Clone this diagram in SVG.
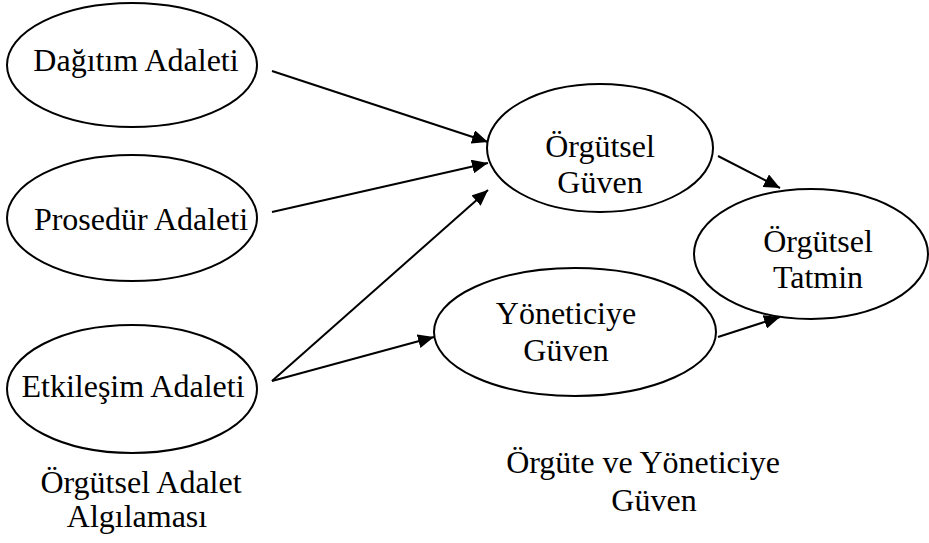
<svg xmlns="http://www.w3.org/2000/svg" width="929" height="543" viewBox="0 0 929 543">
<style>
.n ellipse{fill:#fff;stroke:#000;stroke-width:2}
text{font-family:"Liberation Serif","Times New Roman",serif;font-size:32px;fill:#000;text-anchor:middle}
.c line{stroke:#000;stroke-width:2;marker-end:url(#ah)}
</style>
<defs>
<marker id="ah" markerUnits="userSpaceOnUse" markerWidth="17" markerHeight="14" refX="16" refY="7" orient="auto">
<path d="M0,0 L16,7 L0,14 z" fill="#000"/>
</marker>
</defs>
<rect width="929" height="543" fill="#fff"/>
<g id="n-dagitim" class="n"><ellipse cx="132" cy="65" rx="125" ry="62"/><text x="136" y="71">Dağıtım Adaleti</text></g>
<g id="n-prosedur" class="n"><ellipse cx="132" cy="218" rx="125" ry="63"/><text x="141" y="230">Prosedür Adaleti</text></g>
<g id="n-etkilesim" class="n"><ellipse cx="132" cy="389" rx="125" ry="64"/><text x="133" y="397">Etkileşim Adaleti</text></g>
<g id="n-orgutselguven" class="n"><ellipse cx="600" cy="148" rx="113" ry="64"/><text x="600" y="157">Örgütsel</text><text x="600" y="193">Güven</text></g>
<g id="n-yoneticiye" class="n"><ellipse cx="575" cy="332" rx="141" ry="64"/><text x="566" y="324">Yöneticiye</text><text x="566" y="361">Güven</text></g>
<g id="n-tatmin" class="n"><ellipse cx="811" cy="254" rx="117" ry="65"/><text x="818" y="252">Örgütsel</text><text x="818" y="288">Tatmin</text></g>
<g id="connectors" class="c">
<line x1="272" y1="71" x2="488" y2="142"/>
<line x1="272" y1="212" x2="488" y2="163"/>
<line x1="272" y1="381" x2="488" y2="190"/>
<line x1="272" y1="381" x2="434" y2="337"/>
<line x1="718" y1="156" x2="780" y2="188"/>
<line x1="718" y1="337" x2="780" y2="317"/>
</g>
<g id="labels">
<text x="141" y="493">Örgütsel Adalet</text>
<text x="137" y="527">Algılaması</text>
<text x="643" y="473">Örgüte ve Yöneticiye</text>
<text x="654" y="511">Güven</text>
</g>
</svg>
